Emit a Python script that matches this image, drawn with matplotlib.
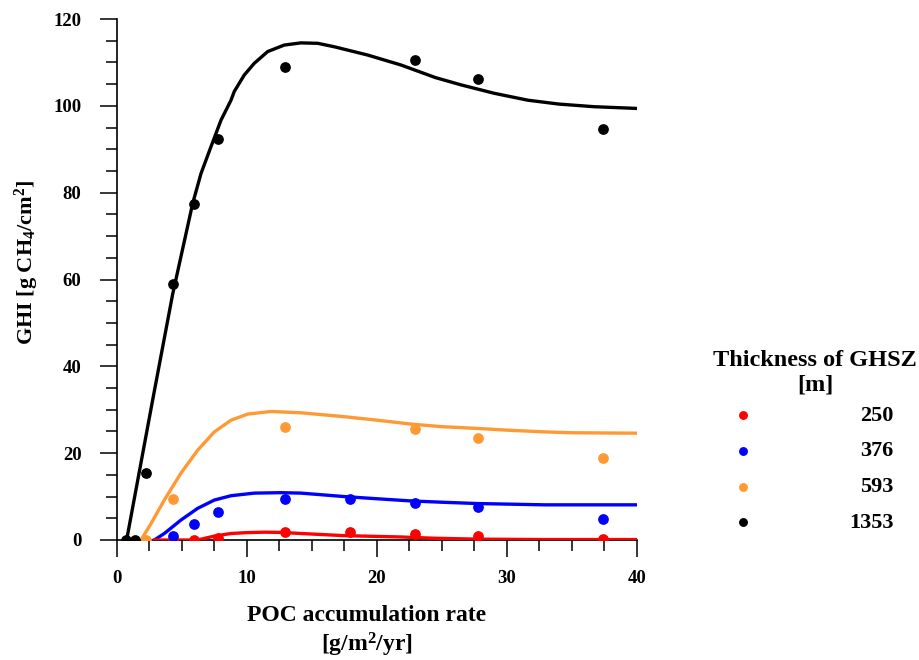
import matplotlib
matplotlib.use("Agg")
import matplotlib.pyplot as plt
from matplotlib.ticker import MultipleLocator

plt.rcParams['font.family'] = 'Liberation Serif'
plt.rcParams['font.weight'] = 'bold'
plt.rcParams['mathtext.fontset'] = 'custom'
plt.rcParams['mathtext.rm'] = 'Liberation Serif:bold'
plt.rcParams['mathtext.it'] = 'Liberation Serif:bold'
plt.rcParams['mathtext.bf'] = 'Liberation Serif:bold'

# measured points (POC accumulation rate, GHI)
x_1353 = [0.7, 1.4, 2.2, 4.3, 5.9, 7.8, 12.9, 22.9, 27.8, 37.4]
y_1353 = [0.0, 0.0, 15.4, 58.9, 77.4, 92.4, 109.0, 110.5, 106.2, 94.7]
x_593 = [2.2, 4.3, 12.9, 22.9, 27.8, 37.4]
y_593 = [0.0, 9.4, 26.0, 25.6, 23.6, 19.0]
x_376 = [4.3, 5.9, 7.8, 12.9, 17.9, 22.9, 27.8, 37.4]
y_376 = [1.0, 3.8, 6.5, 9.4, 9.4, 8.6, 7.5, 4.9]
x_250 = [4.3, 5.9, 7.8, 12.9, 17.9, 22.9, 27.8, 37.4]
y_250 = [0.0, 0.0, 0.5, 1.8, 1.8, 1.4, 0.9, 0.2]

# model curves
cx_1353 = [0.74, 2.74, 4.28, 5.82, 6.46, 7.23, 8.0, 8.77, 9.02, 9.79, 10.56, 11.59,
           12.87, 14.15, 15.44, 16.72, 19.28, 21.85, 24.5, 26.5, 29.0, 31.6,
           34.0, 36.7, 40.0]
cy_1353 = [0.0, 32.2, 56.6, 77.5, 84.4, 90.6, 96.7, 101.3, 103.3, 107.1, 109.8,
           112.5, 114.0, 114.5, 114.4, 113.6, 111.7, 109.4, 106.5, 104.8, 102.9,
           101.3, 100.4, 99.8, 99.4]
cx_593 = [1.85, 2.62, 3.64, 4.92, 6.21, 7.49, 8.77, 10.05, 11.85, 14.15, 17.5,
          20.0, 22.6, 25.0, 27.7, 30.0, 32.9, 35.0, 40.0]
cy_593 = [0.0, 3.8, 9.2, 15.4, 20.7, 24.9, 27.6, 29.0, 29.6, 29.3, 28.4, 27.6,
          26.7, 26.1, 25.7, 25.3, 24.9, 24.7, 24.6]
cx_376 = [2.87, 3.64, 4.92, 6.21, 7.49, 8.77, 10.56, 12.6, 14.15, 17.5, 20.0,
          22.6, 25.0, 27.7, 32.9, 40.0]
cy_376 = [0.0, 1.5, 4.6, 7.3, 9.2, 10.2, 10.8, 10.9, 10.8, 10.0, 9.5, 9.0, 8.7,
          8.4, 8.1, 8.1]
cx_250 = [2.87, 6.2, 7.49, 8.77, 10.0, 11.33, 12.6, 14.15, 17.5, 21.8, 24.5,
          27.7, 33.0, 40.0]
cy_250 = [0.0, 0.0, 0.9, 1.5, 1.7, 1.8, 1.75, 1.5, 1.0, 0.7, 0.4, 0.2, 0.1, 0.1]

col_250 = '#ff0000'
col_376 = '#0000ff'
col_593 = '#ff9933'
col_1353 = '#000000'

fig = plt.figure(figsize=(9.2, 6.6), dpi=100)
ax = fig.add_axes([117 / 920, 1 - 540 / 660, 520 / 920, 521 / 660])

ax.plot(cx_1353, cy_1353, color=col_1353, lw=2.4, zorder=2, solid_joinstyle='round')
ax.plot(cx_593, cy_593, color=col_593, lw=2.4, zorder=2, solid_joinstyle='round')
ax.plot(cx_376, cy_376, color=col_376, lw=2.4, zorder=2, solid_joinstyle='round')
ax.plot(cx_250, cy_250, color=col_250, lw=2.4, zorder=2, solid_joinstyle='round')

ax.scatter(x_250, y_250, s=45, color=col_250, zorder=3, label='250')
ax.scatter(x_376, y_376, s=45, color=col_376, zorder=3, label='376')
ax.scatter(x_593, y_593, s=45, color=col_593, zorder=3, label='593')
ax.scatter(x_1353, y_1353, s=45, color=col_1353, zorder=3, label='1353')

ax.set_xlim(0, 40)
ax.set_ylim(0, 120)
ax.xaxis.set_major_locator(MultipleLocator(10))
ax.xaxis.set_minor_locator(MultipleLocator(2.5))
ax.yaxis.set_major_locator(MultipleLocator(20))
ax.yaxis.set_minor_locator(MultipleLocator(5))
ax.spines['top'].set_visible(False)
ax.spines['right'].set_visible(False)
for s in ['left', 'bottom']:
    ax.spines[s].set_linewidth(1.2)
    ax.spines[s].set_zorder(1)
ax.tick_params(which='major', length=12.5, width=1.1, labelsize=13.5)
ax.tick_params(which='minor', length=8, width=1.1)
ax.tick_params(axis='x', which='major', pad=9)
ax.tick_params(axis='y', which='major', pad=13)
for t in ax.get_xticklabels() + ax.get_yticklabels():
    t.set_fontweight('bold')

ax.set_xlabel('POC accumulation rate\n[g/m$^2$/yr]', fontsize=17, fontweight='bold',
              linespacing=1.25)
ax.xaxis.set_label_coords((367 - 117) / 520, -0.124)
ax.set_ylabel('GHI [g CH$_4$/cm$^2$]', fontsize=16, fontweight='bold')
ax.yaxis.set_label_coords(-0.147, (540 - 262) / 521)

# legend title as separate text, entries right aligned
fig.text(815 / 920, 1 - 373 / 660, 'Thickness of GHSZ\n[m]', ha='center', va='center',
         fontsize=17.5, fontweight='bold', linespacing=1.25)
leg = ax.legend(loc='upper left', bbox_to_anchor=(732 / 920, 1 - 405 / 660),
                bbox_transform=fig.transFigure, frameon=False,
                fontsize=16, markerscale=0.8, labelspacing=0.69,
                handlelength=1.0, handletextpad=4.28,
                borderpad=0, borderaxespad=0)
fig.canvas.draw()
renderer = fig.canvas.get_renderer()
widths = [t.get_window_extent(renderer).width for t in leg.get_texts()]
shift = max(widths)
for t, w in zip(leg.get_texts(), widths):
    t.set_fontweight('bold')
    t.set_position((shift - w, 0))

fig.savefig('out.png', dpi=100)
